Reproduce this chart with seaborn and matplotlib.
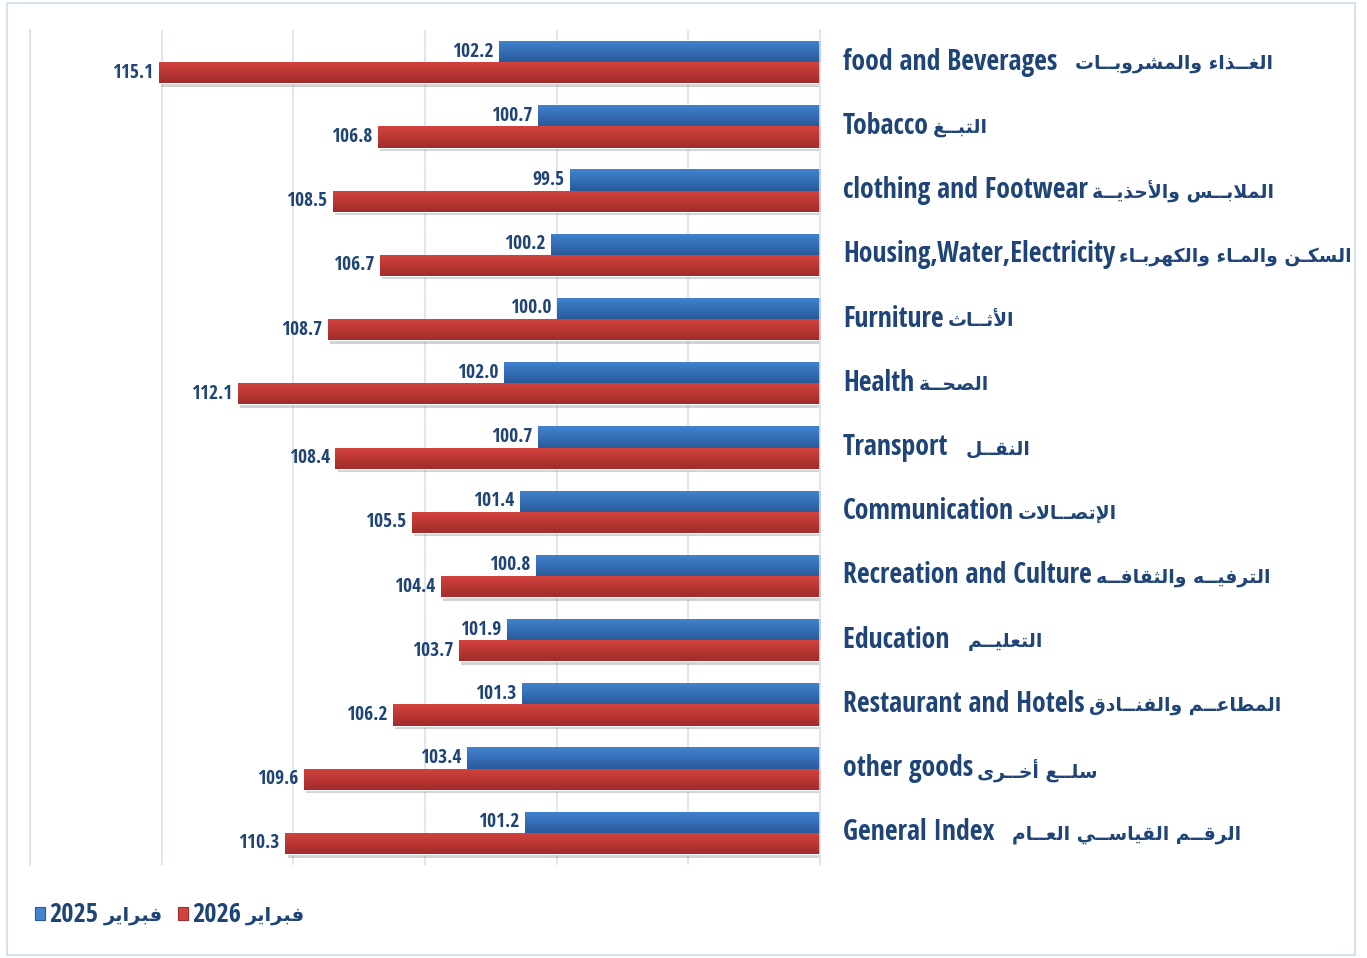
import matplotlib
matplotlib.use("Agg")

import numpy as np
import pandas as pd
import seaborn as sns
import matplotlib.pyplot as plt
import matplotlib.patheffects as pe
from matplotlib.patches import Rectangle

# Data (top to bottom)
categories_en = ["food and Beverages  ", "Tobacco", "clothing and Footwear", "Housing,Water,Electricity",
                 "Furniture", "Health", "Transport  ", "Communication", "Recreation and Culture",
                 "Education  ", "Restaurant and Hotels", "other goods", "General Index  "]
categories_ar = ["الغـــذاء والمشروبـــات", "التبـــغ", "الملابـــس والأحذيـــة", "السكـن والمـاء والكهربـاء",
                 "الأثـــاث", "الصحـــة", "النقـــل", "الإتصـــالات", "الترفيـــه والثقافـــه",
                 "التعليـــم", "المطاعـــم والفنـــادق", "سلـــع أخـــرى", "الرقـــم القياســـي العـــام"]
feb_2025 = [102.2, 100.7, 99.5, 100.2, 100.0, 102.0, 100.7, 101.4, 100.8, 101.9, 101.3, 103.4, 101.2]
feb_2026 = [115.1, 106.8, 108.5, 106.7, 108.7, 112.1, 108.4, 105.5, 104.4, 103.7, 106.2, 109.6, 110.3]
years = ["2025", "2026"]
month_ar = "فبراير"

# matplotlib has no Arabic shaping, so map letters to presentation forms and reverse
DUAL = {'ئ': 0xFE89, 'ب': 0xFE8F, 'ت': 0xFE95, 'ث': 0xFE99, 'ج': 0xFE9D, 'ح': 0xFEA1, 'خ': 0xFEA5,
        'س': 0xFEB1, 'ش': 0xFEB5, 'ص': 0xFEB9, 'ض': 0xFEBD, 'ط': 0xFEC1, 'ظ': 0xFEC5, 'ع': 0xFEC9,
        'غ': 0xFECD, 'ف': 0xFED1, 'ق': 0xFED5, 'ك': 0xFED9, 'ل': 0xFEDD, 'م': 0xFEE1, 'ن': 0xFEE5,
        'ه': 0xFEE9, 'ي': 0xFEF1}
RIGHT = {'آ': 0xFE81, 'أ': 0xFE83, 'ؤ': 0xFE85, 'إ': 0xFE87, 'ا': 0xFE8D, 'ة': 0xFE93, 'د': 0xFEA9,
         'ذ': 0xFEAB, 'ر': 0xFEAD, 'ز': 0xFEAF, 'و': 0xFEED, 'ى': 0xFEEF}
LAMALEF = {'آ': 0xFEF5, 'أ': 0xFEF7, 'إ': 0xFEF9, 'ا': 0xFEFB}
TATWEEL = 'ـ'


def shape_ar(text, stretch=2):
    # shorten the kashida runs a little, DejaVu's tatweel is wide
    while TATWEEL * (stretch + 1) in text:
        text = text.replace(TATWEEL * (stretch + 1), TATWEEL * stretch)
    chars = []
    i = 0
    while i < len(text):
        if text[i] == 'ل' and i + 1 < len(text) and text[i + 1] in LAMALEF:
            chars.append(('LA', text[i + 1]))
            i += 2
        else:
            chars.append(text[i])
            i += 1

    def joins_next(c):
        return c in DUAL or c == TATWEEL

    def joins_prev(c):
        return isinstance(c, tuple) or c in DUAL or c in RIGHT or c == TATWEEL

    out = []
    for k, c in enumerate(chars):
        p = k > 0 and joins_next(chars[k - 1]) and joins_prev(c)
        n = k + 1 < len(chars) and joins_next(c) and joins_prev(chars[k + 1])
        if isinstance(c, tuple):
            out.append(chr(LAMALEF[c[1]] + (1 if p else 0)))
        elif c in DUAL:
            out.append(chr(DUAL[c] + (3 if p and n else 1 if p else 2 if n else 0)))
        elif c in RIGHT:
            out.append(chr(RIGHT[c] + (1 if p else 0)))
        else:
            out.append(c)
    return ''.join(out[::-1])


cats = [c.strip() for c in categories_en]
df = pd.DataFrame({
    "category": cats * 2,
    "value": feb_2025 + feb_2026,
    "series": [years[0]] * len(cats) + [years[1]] * len(cats),
})

sns.set_style("white")
LATIN = ["Open Sans Condensed", "DejaVu Sans"]
ARABIC = ["DejaVu Sans"]
plt.rcParams["font.family"] = LATIN
TEXT = "#1F4477"
BLUE_TOP, BLUE_BOT = "#4283D0", "#2A5A9C"
RED_TOP, RED_BOT = "#D4433E", "#A12C2B"
GRID = "#D7E2EF"

fig = plt.figure(figsize=(13.67, 9.58), dpi=100)
ax = fig.add_axes([30 / 1367, 1 - 865 / 958, (820 - 30) / 1367, (865 - 30) / 958])

sns.barplot(data=df, y="category", x="value", hue="series", hue_order=years,
            palette=[BLUE_BOT, RED_BOT], orient="h", width=0.66, legend=False, ax=ax)

XMIN, XMAX = 90, 120
ax.set_xlim(XMAX, XMIN)
ax.set_ylim(12.5, -0.5)

# gradient fill + soft shadow for each bar
grads = [(BLUE_TOP, BLUE_BOT), (RED_TOP, RED_BOT)]
t = np.linspace(0, 1, 32)[:, None]
for cont, (c_top, c_bot) in zip(ax.containers, grads):
    top = np.array(matplotlib.colors.to_rgb(c_top))
    bot = np.array(matplotlib.colors.to_rgb(c_bot))
    img = (top * (1 - t) + bot * t)[:, None, :]
    for bar in cont:
        bar.set_path_effects([pe.SimplePatchShadow(offset=(1.5, -2.5), shadow_rgbFace="#7F7F7F", alpha=0.35),
                              pe.Normal()])
        y0, h = bar.get_y(), bar.get_height()
        x_end = bar.get_x() + bar.get_width()
        im = ax.imshow(img, extent=(XMIN, x_end, y0 + h, y0), origin="upper", aspect="auto",
                       zorder=2, interpolation="bilinear")
        im.set_clip_path(bar)

ax.set_xlim(XMAX, XMIN)
ax.set_ylim(12.5, -0.5)

for cont in ax.containers:
    ax.bar_label(cont, fmt="%.1f", padding=4, fontsize=14, fontweight="bold", color=TEXT,
                 family=LATIN, zorder=3)

ax.set_xticks([95, 100, 105, 110, 115, 120])
ax.grid(axis="x", color=GRID, lw=1.2)
ax.set_axisbelow(True)
ax.tick_params(axis="both", length=0, labelbottom=False, labelleft=False)
ax.set_xlabel("")
ax.set_ylabel("")
for side in ["top", "bottom"]:
    ax.spines[side].set_visible(False)
for side in ["left", "right"]:
    ax.spines[side].set_color(GRID)
    ax.spines[side].set_linewidth(1.2)

# category labels: English then Arabic, to the right of the plot
for i, (en, ar) in enumerate(zip(categories_en, categories_ar)):
    en_txt = ax.annotate(en, xy=(1, i), xycoords=("axes fraction", "data"), xytext=(16.5, 0),
                         textcoords="offset points", ha="left", va="center", fontsize=20,
                         fontweight="bold", color=TEXT, family=LATIN, annotation_clip=False)
    ax.annotate(shape_ar(ar), xy=(1, 0.5), xycoords=en_txt, xytext=(3, -1), textcoords="offset points",
                ha="left", va="center", fontsize=13.5, fontweight="bold", color=TEXT, family=ARABIC,
                annotation_clip=False)

# legend: colour square, year, Arabic month
renderer = fig.canvas.get_renderer()
x_px = 35
for year, col in zip(years, [(BLUE_TOP, BLUE_BOT), (RED_TOP, RED_BOT)]):
    fig.patches.append(Rectangle((x_px / 1367, 1 - 920 / 958), 10 / 1367, 13 / 958, transform=fig.transFigure,
                                 facecolor=col[0], edgecolor=col[1], lw=0.8))
    yr = ax.annotate(year, xy=((x_px + 14) / 1367, 1 - 914 / 958), xycoords="figure fraction",
                     ha="left", va="center", fontsize=19, fontweight="bold", color=TEXT, family=LATIN,
                     annotation_clip=False)
    mon = ax.annotate(shape_ar(month_ar), xy=(1, 0.5), xycoords=yr, xytext=(4, -1), textcoords="offset points",
                      ha="left", va="center", fontsize=14, fontweight="bold", color=TEXT, family=ARABIC,
                      annotation_clip=False)
    x_px = mon.get_window_extent(renderer).x1 + 15

fig.patches.append(Rectangle((7 / 1367, 3 / 958), (1355 - 7) / 1367, (955 - 3) / 958,
                             transform=fig.transFigure, fill=False, edgecolor="#D6E1EE", lw=1.5))

fig.savefig("out.png", dpi=100)
